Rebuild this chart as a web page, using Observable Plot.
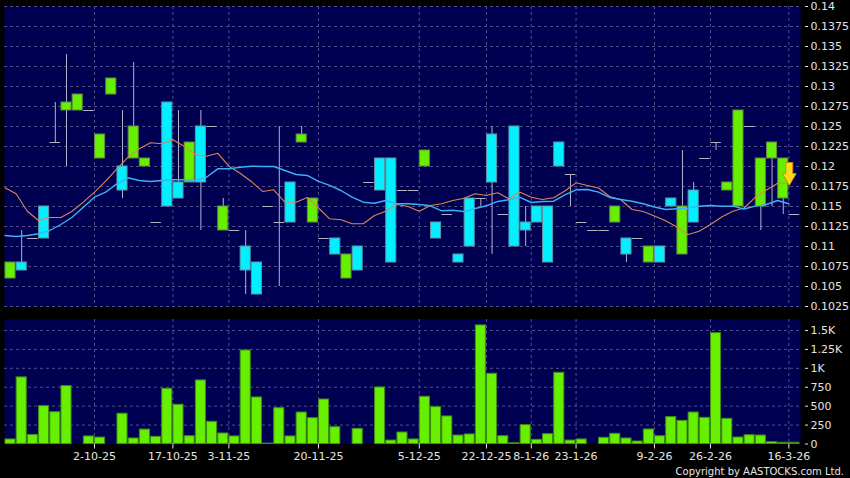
<!DOCTYPE html>
<html><head><meta charset="utf-8">
<script src="https://cdn.jsdelivr.net/npm/d3@7"></script>
<script src="https://cdn.jsdelivr.net/npm/@observablehq/plot@0.6"></script>
<style>
html,body{margin:0;padding:0;background:#000;}
#wrap{position:relative;width:850px;height:478px;overflow:hidden;background:#000;}
#price svg,#vol svg{display:block;}
#copy{position:absolute;right:6px;top:466px;font:10px "DejaVu Sans",sans-serif;line-height:12px;color:#e6e6e6;white-space:nowrap;}
</style></head><body>
<div id="wrap"><div id="price"></div><div id="vol"></div><div id="copy">Copyright by AASTOCKS.com Ltd.</div></div>
<script>
// ---- data (one entry per trading session) ----
const opens = [0.106,0.108,0.111,0.115,0.123,0.127,0.127,0.127,0.121,0.129,
  0.120,0.121,0.120,0.113,0.128,0.118,0.118,0.125,0.125,0.112,
  0.112,0.110,0.108,0.115,0.113,0.118,0.123,0.113,0.111,0.111,
  0.106,0.110,0.118,0.121,0.121,0.117,0.117,0.120,0.113,0.114,
  0.109,0.116,0.116,0.124,0.114,0.125,0.113,0.115,0.115,0.123,
  0.119,0.113,0.112,0.112,0.113,0.111,0.111,0.108,0.110,0.116,
  0.109,0.117,0.121,0.123,0.117,0.115,0.125,0.115,0.121,0.116,0.114];
const closes = [0.108,0.107,0.111,0.111,0.123,0.128,0.129,0.127,0.124,0.131,
  0.117,0.125,0.121,0.113,0.115,0.116,0.123,0.118,0.125,0.115,
  0.112,0.107,0.104,0.115,0.113,0.113,0.124,0.116,0.111,0.109,
  0.109,0.107,0.118,0.117,0.108,0.117,0.117,0.122,0.111,0.114,
  0.108,0.110,0.116,0.118,0.114,0.110,0.112,0.113,0.108,0.120,
  0.119,0.113,0.112,0.112,0.115,0.109,0.111,0.110,0.108,0.115,
  0.115,0.113,0.121,0.123,0.118,0.127,0.125,0.121,0.123,0.121,0.114];
const highs = [0.108,0.112,0.111,0.115,0.128,0.134,0.129,0.127,0.124,0.131,
  0.127,0.133,0.121,0.113,0.128,0.127,0.123,0.127,0.125,0.116,
  0.112,0.112,0.108,0.115,0.125,0.118,0.125,0.116,0.111,0.111,
  0.109,0.110,0.118,0.121,0.121,0.117,0.117,0.122,0.113,0.114,
  0.109,0.116,0.116,0.125,0.114,0.125,0.115,0.115,0.115,0.123,
  0.119,0.113,0.112,0.112,0.115,0.111,0.111,0.110,0.110,0.116,
  0.122,0.118,0.121,0.123,0.118,0.127,0.125,0.121,0.123,0.121,0.114];
const lows = [0.106,0.107,0.111,0.111,0.123,0.120,0.127,0.127,0.121,0.129,
  0.116,0.121,0.120,0.113,0.115,0.116,0.118,0.112,0.125,0.112,
  0.112,0.104,0.104,0.115,0.105,0.113,0.123,0.113,0.111,0.109,
  0.106,0.107,0.118,0.117,0.108,0.117,0.117,0.120,0.111,0.114,
  0.108,0.110,0.115,0.109,0.114,0.110,0.110,0.113,0.108,0.120,
  0.115,0.113,0.112,0.112,0.113,0.108,0.111,0.108,0.108,0.115,
  0.109,0.113,0.121,0.122,0.117,0.115,0.125,0.112,0.115,0.114,0.114];
const volumes = [60,880,120,500,420,765,0,100,85,0,
  400,73,190,95,730,518,103,840,293,139,
  100,1236,615,5,473,100,416,341,588,222,
  0,200,0,747,46,152,60,624,487,364,
  112,126,1567,928,103,10,249,55,130,941,
  46,60,0,82,135,73,33,192,103,355,
  306,416,346,1465,333,86,116,112,24,16,16];
const maShort = [0.11734,0.11659,0.11441,0.11325,0.11363,0.11363,0.11441,0.11554,0.11679,0.11816,
  0.11971,0.12116,0.12221,0.12296,0.12284,0.12334,0.12254,0.1215,0.12129,0.12166,
  0.12004,0.11916,0.11813,0.11688,0.11709,0.11556,0.11554,0.11613,0.11481,0.11346,
  0.11334,0.11284,0.11284,0.11388,0.11441,0.11525,0.115,0.11441,0.11513,0.11534,
  0.11575,0.11604,0.11659,0.11638,0.11671,0.11596,0.11679,0.11616,0.11588,0.11609,
  0.11694,0.11796,0.11763,0.11731,0.11625,0.11584,0.11463,0.11438,0.11381,0.11321,
  0.11244,0.1115,0.11191,0.11275,0.11369,0.1144,0.11481,0.11613,0.11706,0.11791,0.11791];
const maLong = [0.11138,0.11125,0.11138,0.11159,0.112,0.11275,0.11366,0.11491,0.11616,0.11679,
  0.11784,0.11859,0.11825,0.11813,0.11825,0.11834,0.11834,0.11825,0.11866,0.11971,
  0.11971,0.11991,0.12004,0.12,0.12,0.1195,0.119,0.11888,0.11813,0.11763,
  0.117,0.11616,0.11554,0.11541,0.11575,0.11534,0.11534,0.11525,0.11509,0.11446,
  0.11454,0.11438,0.11475,0.11509,0.11563,0.11584,0.11613,0.1155,0.11563,0.11566,
  0.11644,0.11709,0.11713,0.11679,0.11613,0.11588,0.11566,0.11534,0.11494,0.11463,
  0.11471,0.11479,0.11504,0.11513,0.11504,0.11504,0.11469,0.11504,0.11525,0.11575,0.11534];
const dateTickIndex = [7.5,14.5,19.5,27.5,36.5,42.5,46.5,50.5,57.5,62.5,69.5];
const dateTickLabels = ["2-10-25","17-10-25","3-11-25","20-11-25","5-12-25","22-12-25","8-1-26","23-1-26","9-2-26","26-2-26","16-3-26"];
const priceTicks = [0.14,0.1375,0.135,0.1325,0.13,0.1275,0.125,0.1225,0.12,0.1175,0.115,0.1125,0.11,0.1075,0.105,0.1025];
const priceTickLabels = ["0.14","0.1375","0.135","0.1325","0.13","0.1275","0.125","0.1225","0.12","0.1175","0.115","0.1125","0.11","0.1075","0.105","0.1025"];
const volTicks = [0,250,500,750,1000,1250,1500];
const volTickLabels = ["0","250","500","750","1K","1.25K","1.5K"];
const signals = [{i: 69, price: 0.119}];

// ---- build tables ----
const candles = opens.map((o, i) => ({i, open: o, close: closes[i], high: highs[i], low: lows[i], volume: volumes[i]}));
const maRows = maShort.map((v, k) => ({k, short: v, long: maLong[k]}));
const bodies = candles.filter(d => d.open !== d.close);
const dojis = candles.filter(d => d.open === d.close);
const priceLabel = new Map(priceTicks.map((t, j) => [t, priceTickLabels[j]]));
const volLabel = new Map(volTicks.map((t, j) => [t, volTickLabels[j]]));
const dateLabel = new Map(dateTickIndex.map((t, j) => [t, dateTickLabels[j]]));

const NAVY = "#000052", GRID = "#50508c", UP = "#66f000", DOWN = "#00f0ff", WICK = "#b4b4c8", TXT = "#e4e4e4";
const xDomain = [-0.536, 70.54];
const style = {background: "transparent", color: TXT, fontFamily: "DejaVu Sans, sans-serif", fontSize: "11px"};

const downArrow = {
  draw(ctx) {
    ctx.moveTo(-3.5, -12); ctx.lineTo(3.5, -12); ctx.lineTo(3.5, -1); ctx.lineTo(7, -1);
    ctx.lineTo(0, 11); ctx.lineTo(-7, -1); ctx.lineTo(-3.5, -1); ctx.closePath();
  }
};

const price = Plot.plot({
  width: 850, height: 312,
  marginLeft: 4, marginRight: 50, marginTop: 6, marginBottom: 6,
  style,
  x: {domain: xDomain, axis: null, label: null},
  y: {domain: [0.1025, 0.14], label: null},
  marks: [
    Plot.frame({fill: NAVY, stroke: null}),
    Plot.ruleY(priceTicks, {stroke: GRID, strokeDasharray: "3,3"}),
    Plot.ruleX(dateTickIndex, {stroke: GRID, strokeDasharray: "3,3"}),
    Plot.ruleX(candles, {x: "i", y1: "low", y2: "high", stroke: WICK, strokeWidth: 1}),
    Plot.rect(bodies, {x1: d => d.i - 0.45, x2: d => d.i + 0.45, y1: "open", y2: "close",
      fill: d => d.close > d.open ? UP : DOWN,
      stroke: d => d.close > d.open ? "#5f8a4a" : "#5e95a8", strokeWidth: 1}),
    Plot.ruleY(dojis, {y: "close", x1: d => d.i - 0.47, x2: d => d.i + 0.47, stroke: WICK, strokeWidth: 1}),
    Plot.line(maRows, {x: d => d.k - 0.5, y: "short", stroke: "#dc8650", strokeWidth: 1.1}),
    Plot.line(maRows, {x: d => d.k - 0.5, y: "long", stroke: "#3cb0f4", strokeWidth: 1.4}),
    Plot.dot(signals, {x: "i", y: "price", dx: 6, symbol: downArrow, r: 6, fill: "#ffd820", stroke: "#c88a00", strokeWidth: 1}),
    Plot.axisY(priceTicks, {anchor: "right", label: null, tickSize: 3, dx: 4, tickPadding: 3,
      tickFormat: d => priceLabel.get(d), color: TXT, fontSize: 11})
  ]
});
document.getElementById("price").append(price);

const vol = Plot.plot({
  width: 850, height: 166,
  marginLeft: 4, marginRight: 50, marginTop: 7, marginBottom: 34.5,
  style,
  x: {domain: xDomain, label: null},
  y: {domain: [0, 1645], label: null},
  marks: [
    Plot.frame({fill: NAVY, stroke: null}),
    Plot.ruleY(volTicks.filter(v => v > 0), {stroke: GRID, strokeDasharray: "3,3"}),
    Plot.ruleX(dateTickIndex, {stroke: GRID, strokeDasharray: "3,3"}),
    Plot.rect(candles, {x1: d => d.i - 0.45, x2: d => d.i + 0.45, y1: 0, y2: "volume",
      fill: UP, stroke: "#3f8c18", strokeWidth: 1}),
    Plot.axisY(volTicks, {anchor: "right", label: null, tickSize: 3, dx: 4, tickPadding: 3,
      tickFormat: d => volLabel.get(d), color: TXT, fontSize: 11}),
    Plot.axisX(dateTickIndex, {anchor: "bottom", label: null, tickSize: 5, tickPadding: 3,
      tickFormat: d => dateLabel.get(d), color: TXT, fontSize: 11})
  ]
});
document.getElementById("vol").append(vol);
</script>
</body></html>
